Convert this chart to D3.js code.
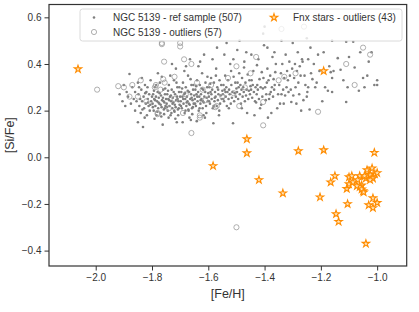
<html>
<head>
<meta charset="utf-8">
<script src="https://d3js.org/d3.v7.min.js"></script>
<style>
  body { margin: 0; background: white; }
  svg { font-family: "Liberation Sans", Arial, sans-serif; }
</style>
</head>
<body>
<div id="chart"></div>
<script>
// NGC 5139 reference sample, [Fe/H] vs [Si/Fe]
var refSample = [
  [-1.915,0.27],[-1.905,0.24],[-1.90,0.31],[-1.895,0.22],[-1.89,0.28],[-1.885,0.26],[-1.88,0.357],[-1.875,0.23],[-1.87,0.30],[-1.865,0.25],[-1.86,0.20],[-1.86,0.28],[-1.855,0.24],[-1.85,0.15],[-1.85,0.32],
  [-1.848,0.27],[-1.845,0.22],[-1.842,0.25],[-1.84,0.19],[-1.838,0.29],[-1.835,0.24],[-1.832,0.13],[-1.83,0.26],[-1.828,0.21],[-1.825,0.31],[-1.822,0.23],[-1.82,0.28],[-1.818,0.18],[-1.815,0.25],[-1.812,0.22],[-1.81,0.27],[-1.808,0.20],[-1.805,0.33],[-1.803,0.24],[-1.80,0.26],[-1.846,0.30],[-1.836,0.34],[-1.826,0.17],[-1.816,0.30],[-1.806,0.225],[-1.834,0.205],[-1.824,0.275],[-1.814,0.235],
  [-1.798,0.23],[-1.796,0.27],[-1.794,0.20],[-1.792,0.25],[-1.79,0.30],[-1.788,0.22],[-1.786,0.26],[-1.784,0.18],[-1.782,0.24],[-1.78,0.28],[-1.778,0.21],[-1.776,0.255],[-1.774,0.23],[-1.772,0.32],[-1.77,0.19],[-1.768,0.265],[-1.766,0.215],[-1.764,0.245],[-1.762,0.14],[-1.76,0.29],[-1.758,0.205],[-1.756,0.235],[-1.754,0.27],[-1.752,0.22],[-1.75,0.25],[-1.797,0.215],[-1.793,0.285],[-1.789,0.245],[-1.785,0.31],[-1.781,0.195],[-1.777,0.235],[-1.773,0.275],[-1.769,0.225],[-1.765,0.345],[-1.761,0.255],[-1.757,0.185],[-1.753,0.295],[-1.791,0.165],[-1.779,0.36],[-1.767,0.175],[-1.755,0.21],[-1.759,0.24],
  [-1.748,0.23],[-1.746,0.27],[-1.744,0.20],[-1.742,0.25],[-1.74,0.31],[-1.738,0.22],[-1.736,0.26],[-1.734,0.18],[-1.732,0.24],[-1.73,0.29],[-1.728,0.21],[-1.726,0.255],[-1.724,0.235],[-1.722,0.33],[-1.72,0.195],[-1.718,0.27],[-1.716,0.215],[-1.714,0.245],[-1.712,0.15],[-1.71,0.30],[-1.708,0.205],[-1.706,0.24],[-1.704,0.28],[-1.702,0.225],[-1.70,0.26],[-1.747,0.215],[-1.743,0.285],[-1.739,0.245],[-1.735,0.35],[-1.731,0.19],[-1.727,0.23],[-1.723,0.28],[-1.719,0.225],[-1.715,0.38],[-1.711,0.26],[-1.707,0.18],[-1.703,0.30],[-1.741,0.17],[-1.729,0.40],[-1.717,0.165],[-1.705,0.21],[-1.709,0.25],[-1.733,0.265],[-1.721,0.20],[-1.713,0.32],
  [-1.698,0.24],[-1.696,0.28],[-1.694,0.21],[-1.692,0.26],[-1.69,0.32],[-1.688,0.23],[-1.686,0.27],[-1.684,0.19],[-1.682,0.25],[-1.68,0.30],[-1.678,0.22],[-1.676,0.26],[-1.674,0.24],[-1.672,0.35],[-1.67,0.20],[-1.668,0.28],[-1.666,0.225],[-1.664,0.25],[-1.662,0.16],[-1.66,0.31],[-1.658,0.21],[-1.656,0.245],[-1.654,0.29],[-1.652,0.23],[-1.65,0.265],[-1.697,0.22],[-1.693,0.295],[-1.689,0.25],[-1.685,0.37],[-1.681,0.20],[-1.677,0.235],[-1.673,0.285],[-1.669,0.23],[-1.665,0.42],[-1.661,0.27],[-1.657,0.185],[-1.653,0.31],[-1.691,0.15],[-1.679,0.39],[-1.667,0.17],[-1.655,0.215],[-1.659,0.255],[-1.683,0.275],[-1.671,0.205],[-1.663,0.335],
  [-1.648,0.25],[-1.646,0.29],[-1.644,0.22],[-1.642,0.27],[-1.64,0.33],[-1.638,0.24],[-1.636,0.28],[-1.634,0.20],[-1.632,0.26],[-1.63,0.31],[-1.628,0.23],[-1.626,0.27],[-1.624,0.25],[-1.622,0.36],[-1.62,0.21],[-1.618,0.29],[-1.616,0.235],[-1.614,0.26],[-1.612,0.17],[-1.61,0.32],[-1.608,0.22],[-1.606,0.255],[-1.604,0.30],[-1.602,0.24],[-1.60,0.275],[-1.647,0.23],[-1.643,0.305],[-1.639,0.26],[-1.635,0.39],[-1.631,0.21],[-1.627,0.245],[-1.623,0.295],[-1.619,0.24],[-1.615,0.44],[-1.611,0.28],[-1.607,0.19],[-1.603,0.345],[-1.641,0.155],[-1.629,0.41],[-1.617,0.18],
  [-1.598,0.26],[-1.596,0.30],[-1.594,0.23],[-1.592,0.28],[-1.59,0.34],[-1.588,0.25],[-1.586,0.29],[-1.584,0.21],[-1.582,0.146],[-1.58,0.32],[-1.578,0.24],[-1.576,0.28],[-1.574,0.26],[-1.572,0.38],[-1.57,0.22],[-1.568,0.30],[-1.566,0.245],[-1.564,0.27],[-1.562,0.18],[-1.56,0.33],[-1.558,0.23],[-1.556,0.265],[-1.554,0.31],[-1.552,0.25],[-1.55,0.285],[-1.597,0.24],[-1.593,0.315],[-1.589,0.27],[-1.585,0.42],[-1.581,0.22],[-1.577,0.255],[-1.573,0.35],[-1.569,0.47],[-1.565,0.29],[-1.561,0.20],
  [-1.548,0.27],[-1.546,0.31],[-1.544,0.24],[-1.542,0.29],[-1.54,0.35],[-1.538,0.26],[-1.536,0.30],[-1.534,0.22],[-1.532,0.28],[-1.53,0.33],[-1.528,0.25],[-1.526,0.29],[-1.524,0.27],[-1.522,0.40],[-1.52,0.23],[-1.518,0.31],[-1.516,0.255],[-1.514,0.28],[-1.512,0.146],[-1.51,0.345],[-1.508,0.24],[-1.506,0.275],[-1.504,0.32],[-1.502,0.26],[-1.50,0.295],[-1.547,0.25],[-1.543,0.44],[-1.539,0.28],[-1.535,0.49],[-1.527,0.21],[-1.519,0.37],[-1.511,0.42],
  [-1.498,0.28],[-1.496,0.32],[-1.494,0.25],[-1.492,0.30],[-1.49,0.36],[-1.488,0.27],[-1.486,0.31],[-1.484,0.23],[-1.482,0.29],[-1.48,0.34],[-1.478,0.26],[-1.476,0.30],[-1.474,0.28],[-1.472,0.41],[-1.47,0.24],[-1.468,0.32],[-1.466,0.265],[-1.464,0.29],[-1.462,0.19],[-1.46,0.355],[-1.458,0.25],[-1.456,0.285],[-1.454,0.33],[-1.452,0.27],[-1.45,0.305],[-1.497,0.46],[-1.489,0.50],[-1.481,0.21],[-1.473,0.385],[-1.465,0.45],
  [-1.448,0.29],[-1.446,0.33],[-1.444,0.255],[-1.442,0.31],[-1.44,0.37],[-1.438,0.28],[-1.436,0.18],[-1.434,0.24],[-1.432,0.30],[-1.43,0.235],[-1.428,0.27],[-1.426,0.31],[-1.424,0.29],[-1.422,0.42],[-1.42,0.25],[-1.418,0.335],[-1.416,0.21],[-1.414,0.30],[-1.412,0.225],[-1.41,0.365],[-1.408,0.26],[-1.406,0.295],[-1.404,0.34],[-1.402,0.48],[-1.447,0.44],[-1.427,0.395],
  [-1.398,0.30],[-1.396,0.245],[-1.394,0.27],[-1.392,0.32],[-1.39,0.38],[-1.388,0.17],[-1.386,0.33],[-1.384,0.25],[-1.382,0.27],[-1.38,0.35],[-1.378,0.28],[-1.376,0.19],[-1.374,0.30],[-1.372,0.43],[-1.37,0.26],[-1.368,0.335],[-1.366,0.29],[-1.364,0.31],[-1.362,0.365],[-1.36,0.40],[-1.355,0.21],[-1.352,0.27],[-1.39,0.47],[-1.365,0.45],
  [-1.348,0.31],[-1.345,0.23],[-1.342,0.36],[-1.34,0.27],[-1.337,0.40],[-1.334,0.29],[-1.332,0.23],[-1.33,0.34],[-1.327,0.265],[-1.325,0.44],[-1.322,0.30],[-1.32,0.37],[-1.317,0.33],[-1.315,0.28],[-1.312,0.41],[-1.31,0.35],[-1.307,0.29],[-1.305,0.237],[-1.302,0.38],[-1.30,0.49],
  [-1.298,0.265],[-1.295,0.34],[-1.292,0.40],[-1.29,0.30],[-1.287,0.23],[-1.285,0.37],[-1.282,0.45],[-1.28,0.32],[-1.277,0.27],[-1.275,0.39],[-1.272,0.35],[-1.27,0.20],[-1.267,0.42],[-1.265,0.41],[-1.262,0.245],[-1.258,0.35],[-1.255,0.31],[-1.25,0.26],
  [-1.248,0.28],[-1.245,0.42],[-1.245,0.30],[-1.24,0.205],[-1.237,0.47],[-1.235,0.36],[-1.23,0.335],[-1.225,0.40],[-1.22,0.30],[-1.215,0.32],[-1.21,0.44],[-1.205,0.37],
  [-1.195,0.24],[-1.19,0.45],[-1.185,0.30],[-1.175,0.285],[-1.17,0.39],[-1.165,0.365],[-1.16,0.34],[-1.16,0.28],[-1.155,0.37],[-1.14,0.425],[-1.13,0.375],[-1.12,0.33],[-1.11,0.495],[-1.11,0.237],[-1.105,0.30],[-1.10,0.43],
  [-1.085,0.495],[-1.08,0.385],[-1.065,0.285],[-1.05,0.34],[-1.045,0.30],[-1.035,0.35],[-1.03,0.41],[-1.02,0.45],[-1.01,0.31],[-1.0,0.33],[-1.0,0.31],[-1.06,0.45],
  [-1.405,0.53],[-1.40,0.56],[-1.34,0.50],[-1.25,0.51],[-1.16,0.50]
];

// NGC 5139 outliers
var ngcOutliers = [
  [-1.995,0.29],[-1.92,0.305],[-1.90,0.30],[-1.87,0.31],[-1.84,0.33],[-1.88,0.26],[-1.85,0.26],
  [-1.765,0.49],[-1.70,0.49],[-1.765,0.485],[-1.70,0.475],[-1.757,0.41],[-1.686,0.42],[-1.66,0.40],
  [-1.66,0.104],[-1.786,0.31],[-1.76,0.335],[-1.77,0.29],[-1.78,0.19],[-1.69,0.19],[-1.63,0.17],[-1.64,0.32],
  [-1.755,0.32],[-1.79,0.30],[-1.78,0.185],
  [-1.34,0.55],[-1.26,0.56],[-1.05,0.47],[-1.025,0.44],[-1.11,0.40],[-1.08,0.31],[-1.21,0.195],
  [-1.405,0.137],[-1.405,0.237],[-1.35,0.33],[-1.33,0.345],[-1.43,0.43],[-1.50,0.39],[-1.53,0.34],
  [-1.575,0.215],[-1.63,0.18],[-1.51,0.275],[-1.57,0.22],[-1.50,-0.30],
  [-1.72,0.25],[-1.68,0.27],[-1.61,0.245],[-1.55,0.26],[-1.47,0.30],[-1.74,0.21],[-1.62,0.29],
  [-1.82,0.24],[-1.45,0.36],[-1.59,0.31],[-1.49,0.22],[-1.29,0.36],[-1.72,0.345]
];

// Fnx stars - outliers
var fnxStars = [
  [-2.063,0.378],[-1.19,0.37],[-1.463,0.078],[-1.463,0.018],[-1.28,0.027],[-1.19,0.031],[-1.01,0.020],
  [-1.583,-0.037],[-1.42,-0.097],[-1.335,-0.154],[-1.203,-0.171],[-1.146,-0.243],[-1.137,-0.276],[-1.04,-0.37],
  [-1.105,-0.20],[-1.15,-0.08],[-1.165,-0.107],[-1.10,-0.085],[-1.09,-0.08],[-1.108,-0.135],[-1.10,-0.115],
  [-1.086,-0.107],[-1.062,-0.08],[-1.069,-0.097],[-1.055,-0.12],[-1.062,-0.127],[-1.05,-0.145],[-1.055,-0.137],
  [-1.048,-0.15],[-1.072,-0.123],[-1.04,-0.09],[-1.036,-0.055],[-1.018,-0.047],[-1.008,-0.072],[-1.025,-0.075],
  [-1.015,-0.09],[-1.0,-0.067],[-1.025,-0.097],[-1.015,-0.175],[-1.03,-0.205],[-1.015,-0.217],[-1.00,-0.195],[-1.045,-0.08]
];

var xTicks = [-2.0, -1.8, -1.6, -1.4, -1.2, -1.0];
var yTicks = [-0.4, -0.2, 0.0, 0.2, 0.4, 0.6];
var legendLabels = ["NGC 5139 - ref sample (507)", "NGC 5139 - outliers (57)", "Fnx stars - outliers (43)"];

var W = 419, H = 312;
var margin = {left: 49, top: 4.5, right: 12.3, bottom: 46};

var svg = d3.select("#chart").append("svg")
  .attr("width", W).attr("height", H);

var x = d3.scaleLinear().domain([-2.166, -0.895]).range([margin.left, W - margin.right]);
var y = d3.scaleLinear().domain([-0.466, 0.655]).range([H - margin.bottom, margin.top]);

var fmt = function(d) { return d3.format(".1f")(d).replace("-", "\u2212"); };

var xAxis = svg.append("g")
  .attr("transform", "translate(0," + (H - margin.bottom) + ")")
  .call(d3.axisBottom(x).tickValues(xTicks).tickFormat(fmt).tickSize(4.5).tickPadding(3));
var yAxis = svg.append("g")
  .attr("transform", "translate(" + margin.left + ",0)")
  .call(d3.axisLeft(y).tickValues(yTicks).tickFormat(fmt).tickSize(4.5).tickPadding(3));

[xAxis, yAxis].forEach(function(g) {
  g.select(".domain").remove();
  g.selectAll(".tick line").attr("stroke", "#333").attr("stroke-width", 1);
  g.selectAll(".tick text").attr("fill", "#333").style("font-size", "10px");
});

// scatter
svg.append("g").selectAll("circle")
  .data(refSample).enter().append("circle")
  .attr("cx", function(d) { return x(d[0]); })
  .attr("cy", function(d) { return y(d[1]); })
  .attr("r", 1.3)
  .attr("fill", "#7f7f7f");

svg.append("g").selectAll("circle")
  .data(ngcOutliers).enter().append("circle")
  .attr("cx", function(d) { return x(d[0]); })
  .attr("cy", function(d) { return y(d[1]); })
  .attr("r", 2.6)
  .attr("fill", "none")
  .attr("stroke", "#9a9a9a")
  .attr("stroke-width", 0.8);

var star = d3.symbol().type(d3.symbolStar).size(17);
svg.append("g").selectAll("path")
  .data(fnxStars).enter().append("path")
  .attr("d", star)
  .attr("transform", function(d) { return "translate(" + x(d[0]) + "," + y(d[1]) + ")"; })
  .attr("fill", "#ffe3b8")
  .attr("stroke", "#ff8c00")
  .attr("stroke-width", 1.1);

// frame
svg.append("rect")
  .attr("x", margin.left).attr("y", margin.top)
  .attr("width", W - margin.left - margin.right)
  .attr("height", H - margin.top - margin.bottom)
  .attr("fill", "none").attr("stroke", "#333").attr("stroke-width", 1.2);

// legend
var lg = svg.append("g");
lg.append("rect")
  .attr("x", 80).attr("y", 9).attr("width", 322).attr("height", 32).attr("rx", 2.5)
  .attr("fill", "white").attr("fill-opacity", 0.8)
  .attr("stroke", "#d0d0d0").attr("stroke-width", 0.8);
lg.append("circle").attr("cx", 94).attr("cy", 17.5).attr("r", 1.3).attr("fill", "#7f7f7f");
lg.append("circle").attr("cx", 94).attr("cy", 32).attr("r", 2.6)
  .attr("fill", "none").attr("stroke", "#9a9a9a").attr("stroke-width", 0.8);
lg.append("path").attr("d", star).attr("transform", "translate(274,17.5)")
  .attr("fill", "#ffe3b8").attr("stroke", "#ff8c00").attr("stroke-width", 1.1);
var lx = [113, 113, 293], ly = [17.5, 32, 17.5];
legendLabels.forEach(function(t, i) {
  lg.append("text").attr("x", lx[i]).attr("y", ly[i]).attr("dy", "0.35em")
    .attr("fill", "#333").style("font-size", "10px").text(t);
});

// axis labels
svg.append("text")
  .attr("x", (margin.left + W - margin.right) / 2).attr("y", 298)
  .attr("text-anchor", "middle").attr("fill", "#333").style("font-size", "12.5px")
  .text("[Fe/H]");
svg.append("text")
  .attr("transform", "translate(14," + ((margin.top + H - margin.bottom) / 2) + ") rotate(-90)")
  .attr("text-anchor", "middle").attr("fill", "#333").style("font-size", "12.5px")
  .text("[Si/Fe]");
</script>
</body>
</html>
